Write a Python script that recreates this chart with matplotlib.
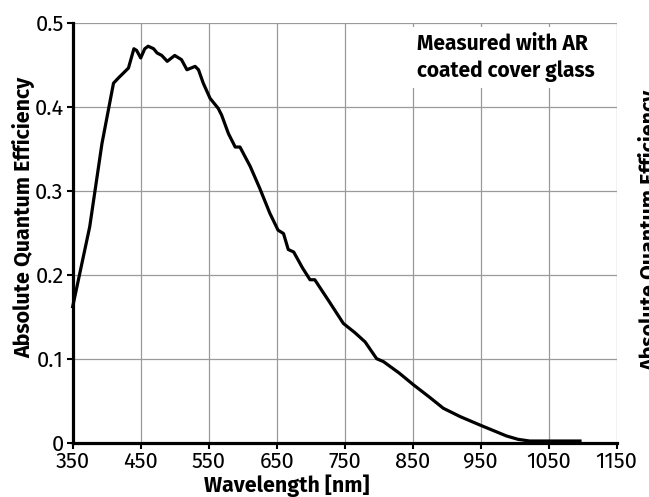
import matplotlib
matplotlib.use("Agg")
import matplotlib.pyplot as plt
from matplotlib import font_manager
from matplotlib.patches import Rectangle

wavelength = [350, 375, 393, 410, 417, 432, 440, 444, 450, 456, 461, 469, 474, 481, 489,
              500, 510, 518, 530, 535, 542, 552, 564, 569, 579, 589, 596, 611, 625, 640,
              652, 660, 667, 675, 688, 699, 706, 728, 748, 765, 780, 797, 807, 830, 851,
              875, 895, 920, 949, 970, 988, 1005, 1022, 1050, 1075, 1096]
qe = [0.162, 0.257, 0.356, 0.428, 0.434, 0.446, 0.469, 0.467, 0.458, 0.469, 0.472, 0.469, 0.464, 0.461, 0.454,
      0.461, 0.456, 0.444, 0.448, 0.444, 0.428, 0.410, 0.398, 0.390, 0.368, 0.352, 0.352, 0.329, 0.303, 0.273,
      0.253, 0.249, 0.230, 0.227, 0.208, 0.194, 0.194, 0.167, 0.142, 0.131, 0.120, 0.100, 0.0965, 0.083, 0.069,
      0.054, 0.041, 0.031, 0.021, 0.014, 0.008, 0.004, 0.002, 0.002, 0.002, 0.002]
xticks = [350, 450, 550, 650, 750, 850, 950, 1050, 1150]
yticks = [0, 0.1, 0.2, 0.3, 0.4, 0.5]
ytick_labels = ["0", "0.1", "0.2", "0.3", "0.4", "0.5"]
xlabel = "Wavelength [nm]"
ylabel = "Absolute Quantum Efficiency"
note_lines = ["Measured with AR", "coated cover glass"]

names = {f.name for f in font_manager.fontManager.ttflist}
pick = None
for cand in ["Fira Sans", "Ubuntu", "Roboto"]:
    if cand in names:
        pick = cand
        break
plt.rcParams['font.family'] = ([pick] if pick else []) + ["DejaVu Sans"]

W, H = 649, 497
fig = plt.figure(figsize=(W/100, H/100), dpi=100)
renderer = fig.canvas.get_renderer()

def fit(s, target, weight, hsize, base=14.0):
    t = fig.text(0, 0, s, fontsize=base, fontweight=weight)
    w = t.get_window_extent(renderer).width
    t.remove()
    return 0.5 * (base * target / w) + 0.5 * hsize

fs_tick = fit("1150", 47, "normal", 13.9)
fs_xlab = fit(xlabel, 173, "bold", 14.6)
fs_ylab = fit(ylabel, 296, "bold", 14.6)
fs_note = fit(note_lines[1], 179, "bold", 15.0)

ax = fig.add_axes([72.7/W, 1-442.7/H, (616.7-72.7)/W, (442.7-22.7)/H])

ax.plot(wavelength, qe, color="black", lw=2.3, solid_joinstyle="round", zorder=3, clip_on=False)
ax.set_xlim(350, 1150)
ax.set_ylim(0, 0.5)
ax.set_xticks(xticks)
ax.set_yticks(yticks)
ax.set_yticklabels(ytick_labels)
ax.grid(True, color="#9a9a9a", lw=0.9)
ax.set_axisbelow(True)
for s in ["top", "right"]:
    ax.spines[s].set_visible(False)
for s in ["left", "bottom"]:
    ax.spines[s].set_linewidth(2.3)
    ax.spines[s].set_zorder(4)
ax.tick_params(axis="both", length=4, width=1.5, labelsize=fs_tick, color="black")
ax.tick_params(axis="x", pad=2.0)
ax.tick_params(axis="y", pad=2.5)

fig.text(286.5/W, 1-492/H, xlabel, ha="center", va="baseline",
         fontsize=fs_xlab, fontweight="bold")
fig.text(30/W, 1-217.5/H, ylabel, rotation=90, rotation_mode="anchor",
         ha="center", va="baseline", fontsize=fs_ylab, fontweight="bold")
fig.text(656/W, 1-230/H, ylabel, rotation=90, rotation_mode="anchor",
         ha="center", va="baseline", fontsize=fs_ylab, fontweight="bold")

fig.add_artist(Rectangle((405/W, 1-88/H), (612-405)/W, (88-27)/H,
                         transform=fig.transFigure, facecolor="white",
                         edgecolor="none", zorder=2))
fig.text(416.7/W, 1-50/H, note_lines[0], ha="left", va="baseline",
         fontsize=fs_note, fontweight="bold", zorder=5)
fig.text(416.7/W, 1-77/H, note_lines[1], ha="left", va="baseline",
         fontsize=fs_note, fontweight="bold", zorder=5)

fig.savefig("out.png", dpi=100)
